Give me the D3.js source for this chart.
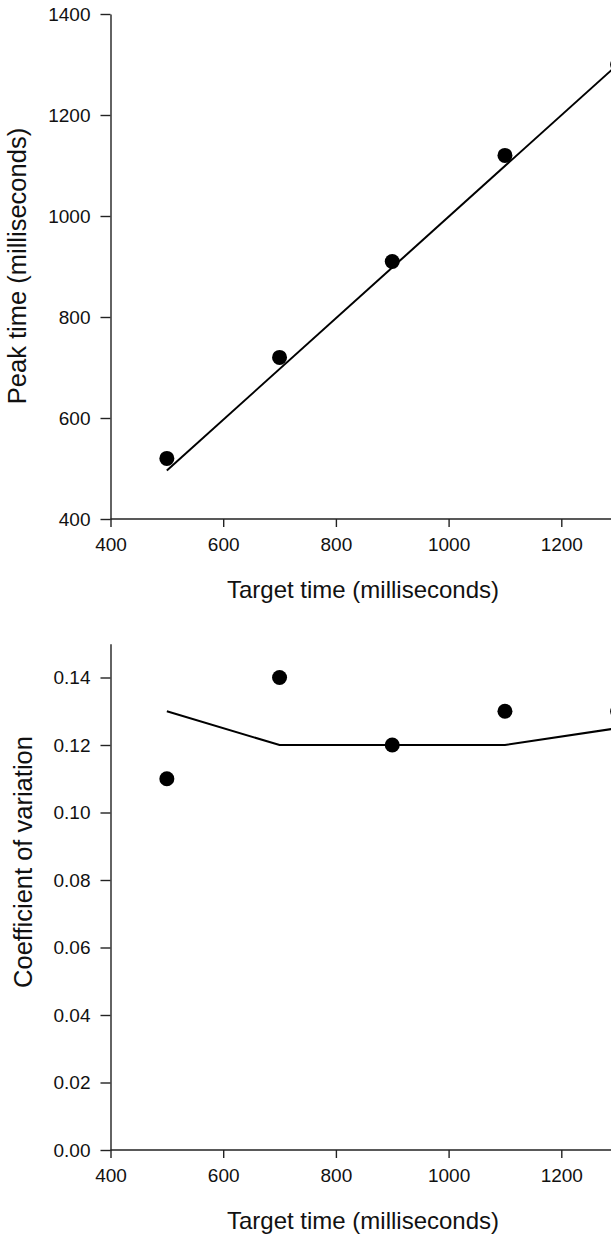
<!DOCTYPE html>
<html>
<head>
<meta charset="utf-8">
<script src="https://cdn.jsdelivr.net/npm/d3@7"></script>
<style>
  html, body { margin: 0; padding: 0; background: #fff; overflow: hidden; }
  svg { display: block; }
  svg text { font-family: "Liberation Sans", Arial, sans-serif; }
</style>
</head>
<body>
<div id="grafico"></div>
<script>
// Data
const targetTimes = [500, 700, 900, 1100, 1300];
const peakTimes = [520, 720, 910, 1120, 1300];
const fitTimes = [500, 1300];
const peakFit = [496, 1300];
const cvValues = [0.11, 0.14, 0.12, 0.13, 0.13];
const cvFit = [0.13, 0.12, 0.12, 0.12, 0.125];

const xTicks = [400, 600, 800, 1000, 1200];
const peakTicks = [400, 600, 800, 1000, 1200, 1400];
const cvTicks = [0, 0.02, 0.04, 0.06, 0.08, 0.10, 0.12, 0.14];

const xTitle = "Target time (milliseconds)";
const peakTitle = "Peak time (milliseconds)";
const cvTitle = "Coefficient of variation";

const width = 611;
const height = 1236;
const marginLeft = 110.5;
const xRight = 674;   // plot runs past the right edge of the picture

const svg = d3.select("#grafico")
  .append("svg")
  .attr("width", width)
  .attr("height", height);

const xScale = d3.scaleLinear()
  .domain([400, 1400])
  .range([marginLeft, xRight]);

// draw one panel
const panel = (opts) => {
  const g = svg.append("g");

  const xAxis = d3.axisBottom(xScale)
    .tickValues(xTicks)
    .tickSize(8)
    .tickSizeOuter(0)
    .tickPadding(11)
    .tickFormat(d3.format("d"));

  const yAxis = d3.axisLeft(opts.yScale)
    .tickValues(opts.ticks)
    .tickSize(10)
    .tickSizeOuter(0)
    .tickPadding(10)
    .tickFormat(opts.format);

  const gx = g.append("g")
    .attr("transform", `translate(0,${opts.yScale.range()[0]})`)
    .call(xAxis);

  // x axis line keeps going to the edge
  gx.select(".domain").attr("d", `M${marginLeft},0H${xRight}`);

  const gy = g.append("g")
    .attr("transform", `translate(${marginLeft},0)`)
    .call(yAxis);

  [gx, gy].forEach(a => {
    a.attr("font-family", null).attr("font-size", null);
    a.selectAll("path, line").attr("stroke", "#222").attr("stroke-width", 1.4);
    a.selectAll("text").attr("fill", "#111").style("font-size", "19px");
  });

  // line
  const linea = d3.line()
    .x((d, i) => xScale(opts.lineX[i]))
    .y(d => opts.yScale(d));

  g.append("path")
    .datum(opts.lineY)
    .attr("d", linea)
    .attr("fill", "none")
    .attr("stroke", "#000")
    .attr("stroke-width", 2);

  // points
  g.selectAll("circle")
    .data(opts.values)
    .enter()
    .append("circle")
    .attr("cx", (d, i) => xScale(targetTimes[i]))
    .attr("cy", d => opts.yScale(d))
    .attr("r", 7.5)
    .attr("fill", "#000");

  // titles
  g.append("text")
    .attr("x", 363)
    .attr("y", opts.yScale.range()[0] + 79)
    .attr("text-anchor", "middle")
    .style("font-size", "24px")
    .attr("fill", "#111")
    .text(xTitle);

  g.append("text")
    .attr("transform", `translate(${opts.titleX},${opts.titleY}) rotate(-90)`)
    .attr("text-anchor", "middle")
    .style("font-size", "25.5px")
    .attr("fill", "#111")
    .text(opts.title);
};

// Top panel - peak time
panel({
  yScale: d3.scaleLinear().domain([400, 1400]).range([519, 14]),
  ticks: peakTicks,
  format: d3.format("d"),
  values: peakTimes,
  lineX: fitTimes,
  lineY: peakFit,
  title: peakTitle,
  titleX: 26,
  titleY: 266
});

// Bottom panel - coefficient of variation
panel({
  yScale: d3.scaleLinear().domain([0, 0.15]).range([1150, 643.75]),
  ticks: cvTicks,
  format: d3.format(".2f"),
  values: cvValues,
  lineX: targetTimes,
  lineY: cvFit,
  title: cvTitle,
  titleX: 32,
  titleY: 862
});
</script>
</body>
</html>
